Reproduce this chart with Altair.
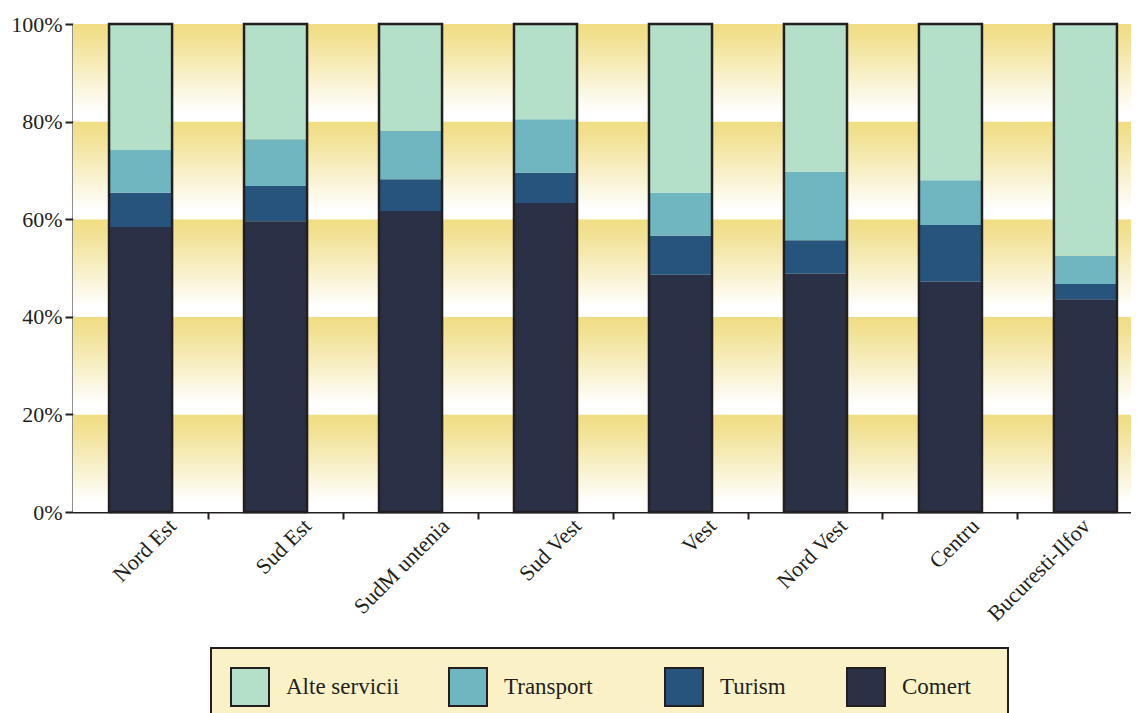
import altair as alt
import pandas as pd

# ---- data (percent of total) ----
regions = ["Nord Est", "Sud Est", "SudM untenia", "Sud Vest",
           "Vest", "Nord Vest", "Centru", "Bucuresti-Ilfov"]
comert = [58.4, 59.6, 61.7, 63.3, 48.6, 48.8, 47.2, 43.6]
turism = [7.0, 7.2, 6.5, 6.2, 8.0, 6.9, 11.6, 3.1]
transport = [8.8, 9.6, 9.9, 11.0, 8.8, 14.0, 9.2, 5.8]
alte = [25.8, 23.6, 21.9, 19.5, 34.6, 30.3, 32.0, 47.5]

series_names = ["Alte servicii", "Transport", "Turism", "Comert"]
series_colors = ["#B4DFC9", "#6FB6C0", "#26547C", "#2A3045"]
stack_rank = {"Comert": 0, "Turism": 1, "Transport": 2, "Alte servicii": 3}

band_lo = [0, 20, 40, 60, 80]
band_hi = [20, 40, 60, 80, 100]
y_ticks = [0, 20, 40, 60, 80, 100]

# ---- tables ----
rows = []
for i, r in enumerate(regions):
    for name, vals in (("Comert", comert), ("Turism", turism),
                       ("Transport", transport), ("Alte servicii", alte)):
        rows.append({"region": r, "series": name, "value": vals[i],
                     "rank": stack_rank[name]})
long_df = pd.DataFrame(rows)
tot_df = pd.DataFrame({"region": regions,
                       "total": [a + b + c + d for a, b, c, d in
                                 zip(comert, turism, transport, alte)]})
band_df = pd.DataFrame({"lo": band_lo, "hi": band_hi})

INK = "#231F20"
FONT = "Liberation Serif"
NB = "\u00a0"
ZW = "\u200b"

y_scale = alt.Scale(domain=[0, 100], nice=False)
x_scale = alt.Scale(range=[0, 1080], paddingInner=0.533, paddingOuter=0.267)

y_axis = alt.Axis(values=y_ticks, labelExpr="datum.value + '%'",
                  labelFont=FONT, labelFontSize=22,
                  labelColor=INK, domainColor=INK, domainWidth=2,
                  tickColor=INK, tickWidth=2, tickSize=8,
                  labelPadding=3, grid=False, title=None)

x_label_offset = {
    "condition": [
        {"test": "datum.value == 'Bucuresti-Ilfov'", "value": -6},
        {"test": "datum.value == 'Centru'", "value": 18},
        {"test": "datum.value == 'Nord Vest'", "value": 21},
        {"test": "datum.value == 'SudM untenia'", "value": 28},
    ],
    "value": 25,
}

gradient = alt.Gradient(
    gradient="linear",
    stops=[alt.GradientStop(offset=0, color="#F0DD84"),
           alt.GradientStop(offset=0.12, color="#F1E08E"),
           alt.GradientStop(offset=0.9, color="#FFFFFF"),
           alt.GradientStop(offset=1, color="#FFFFFF")],
    x1=0, x2=0, y1=0, y2=1,
)

bands = alt.Chart(band_df).mark_rect(color=gradient).encode(
    x=alt.value(0),
    x2=alt.value(1080),
    y=alt.Y("lo:Q", scale=y_scale, axis=y_axis),
    y2="hi:Q",
)

legend_label = ("datum.label == 'Transport' ? 'Transport" + NB * 4 + ZW + "' : "
                "datum.label == 'Turism' ? 'Turism" + NB * 2 + ZW + "' : "
                "datum.label == 'Comert' ? 'Comert" + NB * 3 + ZW + "' : datum.label")

bars = alt.Chart(long_df).mark_bar(stroke=None).encode(
    x=alt.X("region:N", sort=regions, scale=x_scale, title=None,
            axis=alt.Axis(labelAngle=-45, labelAlign="right",
                          labelBaseline="top", labelOffset=x_label_offset,
                          labelPadding=-4, bandPosition=1.571,
                          labelFont=FONT, labelFontSize=22,
                          labelColor=INK, domainColor=INK,
                          domainWidth=2, tickColor=INK, tickWidth=2,
                          tickSize=7)),
    y=alt.Y("value:Q", stack="zero", scale=y_scale, axis=y_axis),
    color=alt.Color("series:N",
                    scale=alt.Scale(domain=series_names, range=series_colors),
                    legend=alt.Legend(
                        title=None, orient="none", legendX=138, legendY=624,
                        direction="horizontal", fillColor="#FAF2C6",
                        strokeColor=INK, padding=19,
                        symbolType="square", symbolSize=1444,
                        symbolStrokeColor=INK, symbolStrokeWidth=2,
                        symbolOpacity=1, labelFont=FONT, labelFontSize=23,
                        labelColor=INK, labelOffset=16, columnPadding=45,
                        labelLimit=300, labelExpr=legend_label)),
    order=alt.Order("rank:Q", sort="ascending"),
)

outline = alt.Chart(tot_df).mark_bar(fillOpacity=0, stroke=INK,
                                     strokeWidth=2.5).encode(
    x=alt.X("region:N", sort=regions, scale=x_scale),
    y=alt.Y("total:Q", scale=y_scale),
)

chart = alt.layer(bands, bars, outline).properties(
    width=1058, height=488,
    autosize=alt.AutoSizeParams(type="none"),
    padding={"left": 65, "top": 16, "right": 0, "bottom": 201},
    background="white",
).configure_view(stroke=None).configure_legend(strokeWidth=2)

chart.save("out.html", embed_options={"renderer": "svg", "actions": False})
